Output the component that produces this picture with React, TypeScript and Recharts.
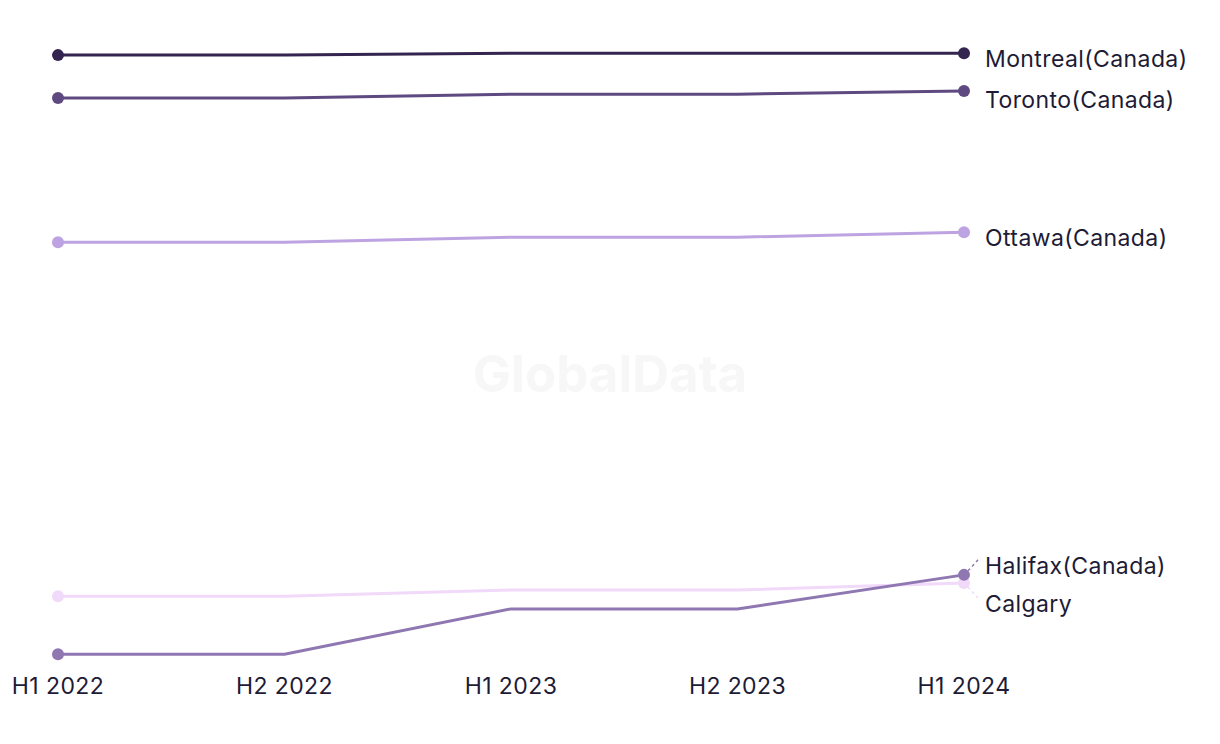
import { LineChart, Line, XAxis, YAxis, LabelList } from "recharts";

const periods = ["H1 2022", "H2 2022", "H1 2023", "H2 2023", "H1 2024"];

const montreal = [97.6, 97.6, 97.9, 97.9, 97.9];
const toronto = [90.8, 90.8, 91.4, 91.4, 91.9];
const ottawa = [67.9, 67.9, 68.7, 68.7, 69.5];
const calgary = [11.7, 11.7, 12.7, 12.7, 13.8];
const halifax = [2.5, 2.5, 9.7, 9.7, 15.1];

const data = periods.map((p, i) => ({
  period: p,
  montreal: montreal[i],
  toronto: toronto[i],
  ottawa: ottawa[i],
  calgary: calgary[i],
  halifax: halifax[i],
}));

const TEXT = "#1d1b35";
const FONT = "Inter, 'Noto Sans', sans-serif";

// label dy and optional leader line direction per series
const series = [
  { key: "montreal", name: "Montreal(Canada)", color: "#33254f", dy: 6, leader: 0 },
  { key: "toronto", name: "Toronto(Canada)", color: "#5e4a81", dy: 9, leader: 0 },
  { key: "ottawa", name: "Ottawa(Canada)", color: "#bda3e1", dy: 6, leader: 0 },
  { key: "calgary", name: "Calgary", color: "#f1d9fa", dy: 21, leader: 1 },
  { key: "halifax", name: "Halifax(Canada)", color: "#8f77b2", dy: -9, leader: -1 },
];

const last = periods.length - 1;

const makeDot = (color: string) => (props: any) => {
  const { cx, cy, index } = props;
  if (index !== 0 && index !== last) return <g key={`d-${index}`} />;
  return <circle key={`d-${index}`} cx={cx} cy={cy} r={6} fill={color} stroke="none" />;
};

const makeLabel = (s: (typeof series)[number]) => (props: any) => {
  const { x, y, index } = props;
  if (index !== last) return null;
  return (
    <g>
      {s.leader !== 0 && (
        <line
          x1={x + 4}
          y1={y + s.leader * 4}
          x2={x + 14}
          y2={y + s.leader * 15}
          stroke={s.color}
          strokeWidth={1.5}
          strokeDasharray="3 3"
        />
      )}
      <text
        x={x + 21}
        y={y + s.dy}
        dy="0.35em"
        fill={TEXT}
        fontSize={23}
        letterSpacing={0.4}
        fontFamily={FONT}
      >
        {s.name}
      </text>
    </g>
  );
};

export default function App() {
  return (
    <div style={{ position: "relative", width: 1212, height: 736 }}>
      <div
        style={{
          position: "absolute",
          left: 602,
          top: 365,
          transform: "translate(-50%, -50%)",
          fontFamily: FONT,
          fontWeight: 700,
          fontSize: 51,
          color: "#f7f7f7",
          whiteSpace: "nowrap",
        }}
      >
        GlobalData
      </div>
      <LineChart
        width={1212}
        height={736}
        data={data}
        margin={{ top: 32, right: 256, left: 50, bottom: 44 }}
        style={{ position: "relative" }}
      >
        <XAxis
          dataKey="period"
          axisLine={false}
          tickLine={false}
          height={30}
          interval={0}
          padding={{ left: 0, right: 0 }}
          tick={{ fill: TEXT, fontSize: 23, fontFamily: FONT, letterSpacing: 0.4 }}
        />
        <YAxis hide domain={[0, 100]} />
        {series.map((s) => (
          <Line
            key={s.key}
            dataKey={s.key}
            type="linear"
            stroke={s.color}
            strokeWidth={3}
            dot={makeDot(s.color)}
            activeDot={false}
            isAnimationActive={false}
          >
            <LabelList dataKey={s.key} content={makeLabel(s)} />
          </Line>
        ))}
      </LineChart>
    </div>
  );
}
